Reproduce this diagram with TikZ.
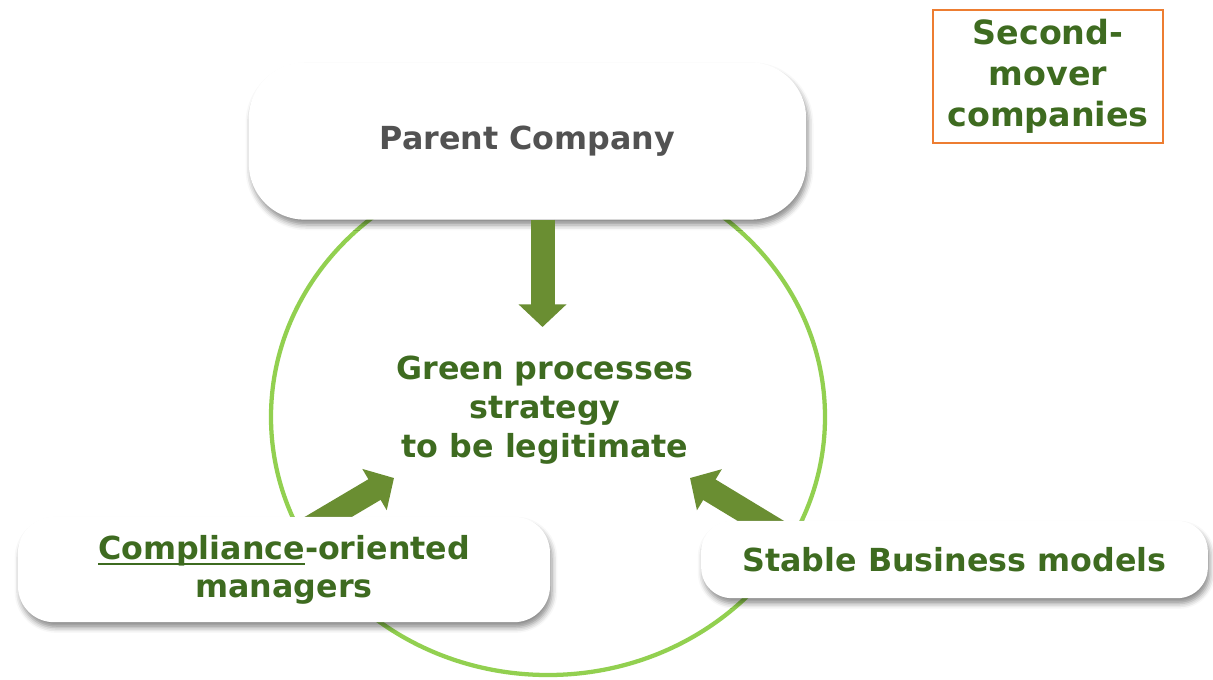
\documentclass[tikz,border=0pt]{standalone}
\usepackage{fontspec}
\setmainfont{DejaVu Sans}
\usepackage{xcolor}
\usetikzlibrary{positioning,calc,arrows.meta,shadows.blur}
\definecolor{leafgreen}{RGB}{146,208,80}
\definecolor{olivegreen}{RGB}{106,142,50}
\definecolor{darkgreen}{RGB}{62,107,32}
\definecolor{slategray}{RGB}{82,82,82}
\definecolor{moverorange}{RGB}{237,125,49}
\newcommand{\thickunder}[1]{\setbox0\hbox{#1}\rlap{\rule[-4.5pt]{\wd0}{1.8pt}}\box0}
\tikzset{
	card/.style={fill=white,blur shadow={shadow xshift=1.5pt,shadow yshift=-4pt,shadow blur radius=4pt,shadow opacity=45},align=center,text=darkgreen,font=\bfseries\fontsize{23.8}{29}\selectfont},
	push/.style={draw=olivegreen,line width=18pt,-{Triangle[width=35pt,length=17pt]}},
}
\begin{document}
\begin{tikzpicture}[x=0.75pt,y=-0.75pt]
		\useasboundingbox (0,0) rectangle (1213,679);
		% ring
		\draw[leafgreen,line width=3.2pt] (548,417) ellipse [x radius=277,y radius=258];
		% centre
		\node[align=center,text=darkgreen,font=\bfseries\fontsize{23.8}{29}\selectfont] (goal) at (545,410) {Green processes\\strategy\\to be legitimate};
		\coordinate (downtip) at (542.5,327);
		\coordinate (lefttail) at (296,536);
		\coordinate (lefttip) at (394,478);
		\coordinate (righttail) at (794,541);
		\coordinate (righttip) at (690,478);
		% boxes
		\node[card,rounded corners=42pt,minimum width=418pt,minimum height=118pt,text=slategray] (parent) at (527.5,141) {\raisebox{3pt}{Parent Company}};
		\draw[push] (parent.south -| downtip) -- (downtip);
		\draw[push] (lefttail) -- (lefttip);
		\draw[push] (righttail) -- (righttip);
		\node[card,rounded corners=27pt,minimum width=399pt,minimum height=79pt,font=\bfseries\fontsize{23.8}{28.5}\selectfont] (managers) at (284,569.5) {\thickunder{Compliance}-oriented\\managers};
		\node[card,rounded corners=23pt,minimum width=380pt,minimum height=58pt] (models) at (954.5,559.5) {Stable Business models};
		\node[draw=moverorange,line width=1.5pt,fill=white,minimum width=172pt,minimum height=100pt,align=center,text=darkgreen,font=\bfseries\fontsize{25}{30.75}\selectfont] (mover) at (1048,76.5) {Second-\\mover\\companies};
	\end{tikzpicture}
\end{document}
